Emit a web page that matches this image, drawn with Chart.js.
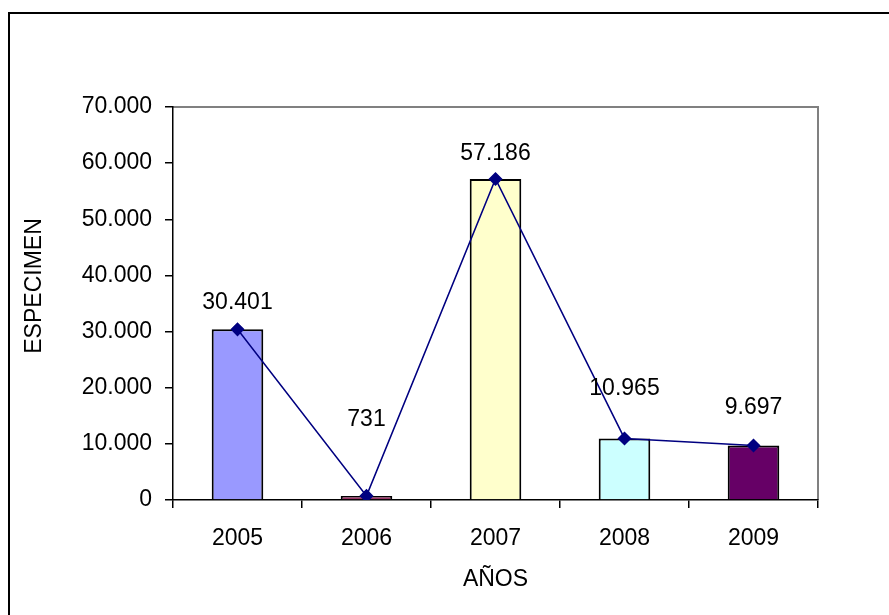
<!DOCTYPE html>
<html>
<head>
<meta charset="utf-8">
<script src="https://cdn.jsdelivr.net/npm/chart.js@4/dist/chart.umd.min.js"></script>
<style>
  body { margin: 0; background: #fff; }
  canvas { display: block; }
</style>
</head>
<body>
<canvas id="chart" width="889" height="615"></canvas>
<script>
const years = ['2005', '2006', '2007', '2008', '2009'];
const specimens = [30401, 731, 57186, 10965, 9697];
const barColors = ['#9999FF', '#993366', '#FFFFCC', '#CCFFFF', '#660066'];
const yTicks = [0, 10000, 20000, 30000, 40000, 50000, 60000, 70000];
const labelOffsets = [27, 76, 25, 50, 38];

const FONT = 'Liberation Sans, Arial, sans-serif';

function fmt(v) {
    return v.toLocaleString('de-DE');
}

const framePlugin = {
    id: 'frame',
    beforeDraw(chart) {
        const ctx = chart.ctx;
        ctx.save();
        ctx.fillStyle = '#fff';
        ctx.fillRect(0, 0, chart.width, chart.height);
        ctx.strokeStyle = '#000';
        ctx.lineWidth = 2;
        ctx.strokeRect(9, 13, 1000, 1000);
        const a = chart.chartArea;
        ctx.strokeStyle = '#808080';
        ctx.lineWidth = 2;
        ctx.beginPath();
        ctx.moveTo(a.left, a.top);
        ctx.lineTo(a.right, a.top);
        ctx.lineTo(a.right, a.bottom);
        ctx.stroke();
        ctx.restore();
    },
    afterDraw(chart) {
        const ctx = chart.ctx;
        const a = chart.chartArea;
        const x = chart.scales.x, y = chart.scales.y;
        ctx.save();
        ctx.fillStyle = '#000';
        ctx.font = '23px ' + FONT;
        ctx.textAlign = 'center';
        ctx.textBaseline = 'middle';
        specimens.forEach((v, i) => {
            ctx.fillText(fmt(v), x.getPixelForValue(i), y.getPixelForValue(v) - labelOffsets[i]);
        });
        // axis titles
        ctx.fillText('AÑOS', (a.left + a.right) / 2, 580);
        ctx.translate(35, 286);
        ctx.rotate(-Math.PI / 2);
        ctx.fillText('ESPECIMEN', 0, 0);
        ctx.restore();
    }
};

new Chart(document.getElementById('chart').getContext('2d'), {
    data: {
        labels: years,
        datasets: [
            {
                type: 'line',
                data: specimens,
                borderColor: '#000080',
                borderWidth: 1.5,
                pointStyle: 'rectRot',
                pointRadius: 6,
                pointBackgroundColor: '#000080',
                pointBorderColor: '#000080',
                order: 0
            },
            {
                type: 'bar',
                data: specimens,
                backgroundColor: barColors,
                borderColor: '#000',
                borderWidth: 2,
                barPercentage: 0.4,
                categoryPercentage: 1,
                order: 1
            }
        ]
    },
    options: {
        responsive: false,
        animation: false,
        layout: { padding: { top: 107, right: 71, left: 0, bottom: 0 } },
        plugins: { legend: { display: false }, tooltip: { enabled: false } },
        scales: {
            x: {
                offset: true,
                grid: { offset: true, drawOnChartArea: false, color: '#000', tickLength: 8, lineWidth: 1.5 },
                border: { color: '#000', width: 1.5 },
                ticks: { color: '#000', font: { family: FONT, size: 23 }, padding: 17, maxRotation: 0 },
                afterFit(scale) { scale.height = 115; }
            },
            y: {
                min: 0,
                max: 70000,
                afterBuildTicks(scale) { scale.ticks = yTicks.map(v => ({ value: v })); },
                grid: { drawOnChartArea: false, color: '#000', tickLength: 8, lineWidth: 1.5 },
                border: { color: '#000', width: 1.5 },
                ticks: {
                    color: '#000',
                    font: { family: FONT, size: 23 },
                    padding: 13,
                    callback: v => fmt(v)
                },
                afterFit(scale) { scale.width = 173; }
            }
        }
    },
    plugins: [framePlugin]
});
</script>
</body>
</html>
